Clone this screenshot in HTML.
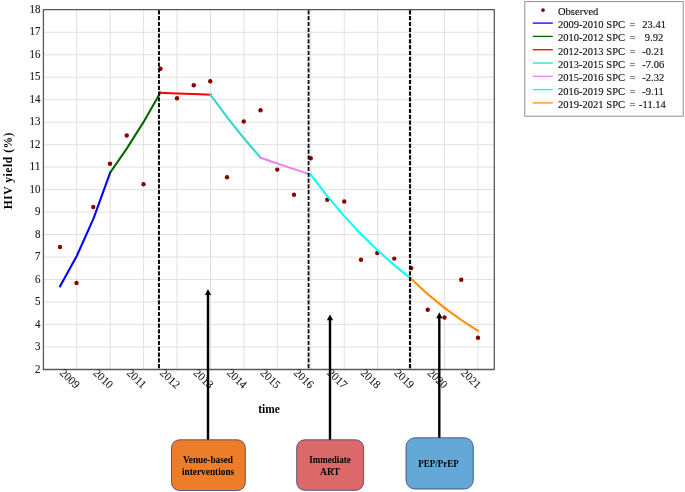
<!DOCTYPE html>
<html><head><meta charset="utf-8"><title>HIV yield joinpoint</title>
<style>
html,body{margin:0;padding:0;background:#fff;}
body{width:685px;height:492px;position:relative;overflow:hidden;font-family:"Liberation Serif",serif;}
text{font-family:"Liberation Serif",serif;fill:#1a1a1a;}
.tk{font-size:12.1px;stroke:#1a1a1a;stroke-width:0.12px;}
.tkx{font-size:11.3px;stroke:#1a1a1a;stroke-width:0.12px;}
.ttl{font-size:11.5px;font-weight:bold;fill:#000;}
.bx{font-size:10.5px;font-weight:bold;fill:#000;}
.lg{font-size:11.4px;fill:#111;stroke:#111;stroke-width:0.15px;}
</style></head><body>
<svg width="685" height="492" viewBox="0 0 685 492" style="position:absolute;left:0;top:0;will-change:transform">
<rect x="0" y="0" width="685" height="492" fill="#ffffff"/>
<path d="M76.76 9.5V369.35 M110.20 9.5V369.35 M143.63 9.5V369.35 M177.06 9.5V369.35 M210.50 9.5V369.35 M243.94 9.5V369.35 M277.37 9.5V369.35 M310.81 9.5V369.35 M344.24 9.5V369.35 M377.68 9.5V369.35 M411.11 9.5V369.35 M444.55 9.5V369.35 M477.98 9.5V369.35 M43.325 346.88H494.5 M43.325 324.41H494.5 M43.325 301.94H494.5 M43.325 279.47H494.5 M43.325 257.00H494.5 M43.325 234.53H494.5 M43.325 212.06H494.5 M43.325 189.59H494.5 M43.325 167.12H494.5 M43.325 144.65H494.5 M43.325 122.18H494.5 M43.325 99.71H494.5 M43.325 77.24H494.5 M43.325 54.77H494.5 M43.325 32.30H494.5" stroke="#e1e1e1" stroke-width="1" fill="none"/>
<rect x="43.4" y="9.56" width="450.9" height="359.94" stroke="#585858" stroke-width="1.3" fill="none" stroke-linejoin="round"/>
<circle cx="60" cy="247" r="2.2" fill="#8b0000"/>
<circle cx="76.5" cy="283" r="2.2" fill="#8b0000"/>
<circle cx="93.25" cy="207" r="2.2" fill="#8b0000"/>
<circle cx="110" cy="163.75" r="2.2" fill="#8b0000"/>
<circle cx="126.75" cy="135.5" r="2.2" fill="#8b0000"/>
<circle cx="143.5" cy="184.25" r="2.2" fill="#8b0000"/>
<circle cx="160.5" cy="68.75" r="2.2" fill="#8b0000"/>
<circle cx="177" cy="98.25" r="2.2" fill="#8b0000"/>
<circle cx="193.75" cy="85.25" r="2.2" fill="#8b0000"/>
<circle cx="210.25" cy="81.25" r="2.2" fill="#8b0000"/>
<circle cx="227" cy="177.25" r="2.2" fill="#8b0000"/>
<circle cx="243.75" cy="121.5" r="2.2" fill="#8b0000"/>
<circle cx="260.5" cy="110.25" r="2.2" fill="#8b0000"/>
<circle cx="277.25" cy="169.6" r="2.2" fill="#8b0000"/>
<circle cx="294" cy="194.75" r="2.2" fill="#8b0000"/>
<circle cx="310.75" cy="158.25" r="2.2" fill="#8b0000"/>
<circle cx="327.25" cy="199.75" r="2.2" fill="#8b0000"/>
<circle cx="344.25" cy="201.5" r="2.2" fill="#8b0000"/>
<circle cx="361" cy="259.75" r="2.2" fill="#8b0000"/>
<circle cx="377.25" cy="253" r="2.2" fill="#8b0000"/>
<circle cx="394.25" cy="258.6" r="2.2" fill="#8b0000"/>
<circle cx="411.25" cy="268.1" r="2.2" fill="#8b0000"/>
<circle cx="427.75" cy="309.75" r="2.2" fill="#8b0000"/>
<circle cx="444.5" cy="317.5" r="2.2" fill="#8b0000"/>
<circle cx="461.25" cy="279.75" r="2.2" fill="#8b0000"/>
<circle cx="478" cy="337.75" r="2.2" fill="#8b0000"/>
<path d="M60.04 286.25 L76.76 256.03 L93.48 218.67 L110.20 172.50" stroke="#0000ff" stroke-width="2.05" fill="none" stroke-linejoin="round" stroke-linecap="square"/>
<path d="M110.20 172.50 L126.91 148.40 L143.63 121.90 L160.35 92.75" stroke="#006400" stroke-width="2.05" fill="none" stroke-linejoin="round" stroke-linecap="square"/>
<path d="M160.35 92.75 L177.06 93.42 L193.78 94.08 L210.50 94.75" stroke="#ff0000" stroke-width="2.05" fill="none" stroke-linejoin="round" stroke-linecap="square"/>
<path d="M210.50 94.75 L227.22 117.30 L243.94 138.27 L260.65 157.75" stroke="#30d5c8" stroke-width="2.05" fill="none" stroke-linejoin="round" stroke-linecap="square"/>
<path d="M260.65 157.75 L277.37 163.49 L294.09 169.11 L310.81 174.60" stroke="#ee82ee" stroke-width="2.05" fill="none" stroke-linejoin="round" stroke-linecap="square"/>
<path d="M310.81 174.60 L327.52 196.33 L344.24 216.08 L360.96 234.05 L377.68 250.38 L394.39 265.24 L411.11 278.75" stroke="#00ffff" stroke-width="2.05" fill="none" stroke-linejoin="round" stroke-linecap="square"/>
<path d="M411.11 278.75 L427.83 294.20 L444.55 307.88 L461.26 320.01 L477.98 330.75" stroke="#ff8c00" stroke-width="2.05" fill="none" stroke-linejoin="round" stroke-linecap="square"/>
<path d="M158.95 10.3V369" stroke="#0a0a0a" stroke-width="2.0" stroke-dasharray="4.2 1.6" fill="none"/>
<path d="M308.57 10.3V369" stroke="#0a0a0a" stroke-width="1.8" stroke-dasharray="4.2 1.6" fill="none"/>
<path d="M409.98 10.3V369" stroke="#0a0a0a" stroke-width="2.1" stroke-dasharray="4.2 1.6" fill="none"/>
<text x="35.00" y="372.50" textLength="5.5" lengthAdjust="spacingAndGlyphs" class="tk">2</text>
<text x="35.00" y="350.03" textLength="5.5" lengthAdjust="spacingAndGlyphs" class="tk">3</text>
<text x="35.00" y="327.56" textLength="5.5" lengthAdjust="spacingAndGlyphs" class="tk">4</text>
<text x="35.00" y="305.09" textLength="5.5" lengthAdjust="spacingAndGlyphs" class="tk">5</text>
<text x="35.00" y="282.62" textLength="5.5" lengthAdjust="spacingAndGlyphs" class="tk">6</text>
<text x="35.00" y="260.15" textLength="5.5" lengthAdjust="spacingAndGlyphs" class="tk">7</text>
<text x="35.00" y="237.68" textLength="5.5" lengthAdjust="spacingAndGlyphs" class="tk">8</text>
<text x="35.00" y="215.21" textLength="5.5" lengthAdjust="spacingAndGlyphs" class="tk">9</text>
<text x="29.50" y="192.74" textLength="11.0" lengthAdjust="spacingAndGlyphs" class="tk">10</text>
<text x="29.50" y="170.27" textLength="11.0" lengthAdjust="spacingAndGlyphs" class="tk">11</text>
<text x="29.50" y="147.80" textLength="11.0" lengthAdjust="spacingAndGlyphs" class="tk">12</text>
<text x="29.50" y="125.33" textLength="11.0" lengthAdjust="spacingAndGlyphs" class="tk">13</text>
<text x="29.50" y="102.86" textLength="11.0" lengthAdjust="spacingAndGlyphs" class="tk">14</text>
<text x="29.50" y="80.39" textLength="11.0" lengthAdjust="spacingAndGlyphs" class="tk">15</text>
<text x="29.50" y="57.92" textLength="11.0" lengthAdjust="spacingAndGlyphs" class="tk">16</text>
<text x="29.50" y="35.45" textLength="11.0" lengthAdjust="spacingAndGlyphs" class="tk">17</text>
<text x="29.50" y="12.98" textLength="11.0" lengthAdjust="spacingAndGlyphs" class="tk">18</text>
<text transform="translate(61.64 370.9) rotate(43)" x="0" y="3.8" class="tkx">2009</text>
<text transform="translate(95.08 370.9) rotate(43)" x="0" y="3.8" class="tkx">2010</text>
<text transform="translate(128.51 370.9) rotate(43)" x="0" y="3.8" class="tkx">2011</text>
<text transform="translate(161.95 370.9) rotate(43)" x="0" y="3.8" class="tkx">2012</text>
<text transform="translate(195.38 370.9) rotate(43)" x="0" y="3.8" class="tkx">2013</text>
<text transform="translate(228.82 370.9) rotate(43)" x="0" y="3.8" class="tkx">2014</text>
<text transform="translate(262.25 370.9) rotate(43)" x="0" y="3.8" class="tkx">2015</text>
<text transform="translate(295.69 370.9) rotate(43)" x="0" y="3.8" class="tkx">2016</text>
<text transform="translate(329.12 370.9) rotate(43)" x="0" y="3.8" class="tkx">2017</text>
<text transform="translate(362.56 370.9) rotate(43)" x="0" y="3.8" class="tkx">2018</text>
<text transform="translate(395.99 370.9) rotate(43)" x="0" y="3.8" class="tkx">2019</text>
<text transform="translate(429.43 370.9) rotate(43)" x="0" y="3.8" class="tkx">2020</text>
<text transform="translate(462.86 370.9) rotate(43)" x="0" y="3.8" class="tkx">2021</text>
<text transform="translate(12.2 170.7) rotate(-90)" text-anchor="middle" class="ttl" style="letter-spacing:0.56px">HIV yield (%)</text>
<text x="269" y="412.7" text-anchor="middle" class="ttl">time</text>
<path d="M208.0 440V294.0" stroke="#000" stroke-width="2.4" fill="none"/><path d="M208.0 289.0L211.1 294.9H204.9Z" fill="#000"/>
<path d="M330.0 440V319.4" stroke="#000" stroke-width="2.4" fill="none"/><path d="M330.0 314.4L333.1 320.29999999999995H326.9Z" fill="#000"/>
<path d="M439.3 438V317.3" stroke="#000" stroke-width="2.4" fill="none"/><path d="M439.3 312.3L442.40000000000003 318.2H436.2Z" fill="#000"/>
<rect x="171.5" y="439.8" width="73.80" height="50.70" rx="8" ry="8" fill="#ed7d28" stroke="#2f3f6f" stroke-width="0.8"/>
<rect x="296.7" y="439.8" width="66.90" height="50.50" rx="8" ry="8" fill="#dc6969" stroke="#2f3f6f" stroke-width="0.8"/>
<rect x="406" y="437.8" width="67.30" height="51.20" rx="9" ry="9" fill="#64a8d7" stroke="#2f3f6f" stroke-width="0.8"/>
<text x="183.00" y="463.25" textLength="50" lengthAdjust="spacingAndGlyphs" class="bx">Venue-based</text>
<text x="182.00" y="474.5" textLength="52.2" lengthAdjust="spacingAndGlyphs" class="bx">interventions</text>
<text x="309.25" y="463.25" textLength="41.5" lengthAdjust="spacingAndGlyphs" class="bx">Immediate</text>
<text x="320.00" y="474.5" textLength="20" lengthAdjust="spacingAndGlyphs" class="bx">ART</text>
<text x="418.25" y="467" textLength="40.5" lengthAdjust="spacingAndGlyphs" class="bx">PEP/PrEP</text>
<rect x="524.8" y="1.6" width="158.4" height="114.6" fill="#fff" stroke="#8f8f8f" stroke-width="1"/>
<circle cx="543" cy="10.1" r="1.9" fill="#8b0000"/>
<text transform="translate(558 14.85) scale(0.925 1)" class="lg">Observed</text>
<path d="M532.8 23.10H552.8" stroke="#0000ff" stroke-width="1.3"/>
<text transform="translate(558 28.10) scale(0.925 1)" class="lg">2009-2010 SPC</text>
<text transform="translate(629.6 28.10) scale(0.925 1)" class="lg">=</text>
<text transform="translate(642.25 28.10) scale(0.925 1)" class="lg">23.41</text>
<path d="M532.8 36.40H552.8" stroke="#006400" stroke-width="1.3"/>
<text transform="translate(558 41.40) scale(0.925 1)" class="lg">2010-2012 SPC</text>
<text transform="translate(629.6 41.40) scale(0.925 1)" class="lg">=</text>
<text transform="translate(644.75 41.40) scale(0.925 1)" class="lg">9.92</text>
<path d="M532.8 49.70H552.8" stroke="#ff0000" stroke-width="1.3"/>
<text transform="translate(558 54.70) scale(0.925 1)" class="lg">2012-2013 SPC</text>
<text transform="translate(629.6 54.70) scale(0.925 1)" class="lg">=</text>
<text transform="translate(642.25 54.70) scale(0.925 1)" class="lg">-0.21</text>
<path d="M532.8 63.00H552.8" stroke="#30d5c8" stroke-width="1.3"/>
<text transform="translate(558 68.00) scale(0.925 1)" class="lg">2013-2015 SPC</text>
<text transform="translate(629.6 68.00) scale(0.925 1)" class="lg">=</text>
<text transform="translate(642.25 68.00) scale(0.925 1)" class="lg">-7.06</text>
<path d="M532.8 76.30H552.8" stroke="#ee82ee" stroke-width="1.3"/>
<text transform="translate(558 81.30) scale(0.925 1)" class="lg">2015-2016 SPC</text>
<text transform="translate(629.6 81.30) scale(0.925 1)" class="lg">=</text>
<text transform="translate(642.25 81.30) scale(0.925 1)" class="lg">-2.32</text>
<path d="M532.8 89.60H552.8" stroke="#00ffff" stroke-width="1.3"/>
<text transform="translate(558 94.60) scale(0.925 1)" class="lg">2016-2019 SPC</text>
<text transform="translate(629.6 94.60) scale(0.925 1)" class="lg">=</text>
<text transform="translate(642.25 94.60) scale(0.925 1)" class="lg">-9.11</text>
<path d="M532.8 102.90H552.8" stroke="#ff8c00" stroke-width="1.3"/>
<text transform="translate(558 107.90) scale(0.925 1)" class="lg">2019-2021 SPC</text>
<text transform="translate(629.6 107.90) scale(0.925 1)" class="lg">=</text>
<text transform="translate(639 107.90) scale(0.925 1)" class="lg">-11.14</text>
</svg>
</body></html>
